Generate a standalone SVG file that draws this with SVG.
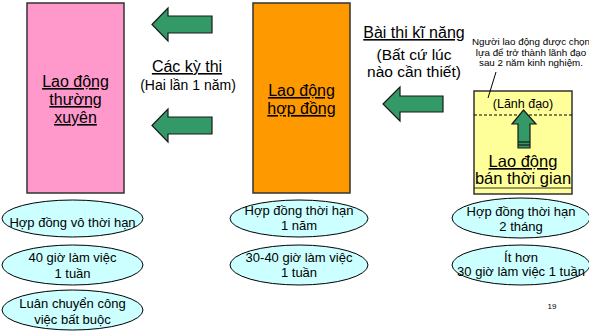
<svg xmlns="http://www.w3.org/2000/svg" width="589" height="331" viewBox="0 0 589 331">
<style>
text{font-family:"Liberation Sans",Arial,sans-serif;fill:#000;text-anchor:middle}
.big{font-size:16px;text-decoration:underline}
.mid{font-size:15.5px}
.ell{font-size:13px}
.small{font-size:9.8px}
.box{stroke:#333;stroke-width:1.5}
.arrow{fill:#339966;stroke:#1a1a1a;stroke-width:1.2;stroke-linejoin:miter}
.oval{fill:#ccffff;stroke:#000;stroke-width:1}
</style>
<rect width="589" height="331" fill="#fff"/>
<g id="node-thuong-xuyen">
<rect class="box" x="27" y="3" width="97" height="190" fill="#ff99cc"/>
<text class="big" x="75.5" y="87">Lao động</text>
<text class="big" x="75.5" y="105">thường </text>
<text class="big" x="75.5" y="123">xuyên</text>
</g>
<g id="node-hop-dong">
<rect class="box" x="253" y="3" width="97" height="190" fill="#ff9900"/>
<text class="big" x="301.5" y="96">Lao động </text>
<text class="big" x="301.5" y="114">hợp đồng</text>
</g>
<g id="node-ban-thoi-gian">
<rect class="box" x="474" y="91" width="98" height="103" fill="#ffff99"/>
<line x1="474" y1="188" x2="572" y2="188" stroke="#333" stroke-width="1.2"/>
<line x1="474" y1="115" x2="572" y2="115" stroke="#000" stroke-width="1" stroke-dasharray="3,2"/>
<text x="523" y="108" style="font-size:12.5px">(Lãnh đạo)</text>
<text class="big" x="523" y="167" style="font-size:16.5px">Lao động </text>
<text x="523" y="184" style="font-size:16.5px">bán thời gian</text>
</g>
<g id="note">
<text class="small" x="531" y="45">Người lao động được chọn</text>
<text class="small" x="531" y="56">lựa để trở thành lãnh đạo</text>
<text class="small" x="531" y="66">sau 2 năm kinh nghiệm.</text>
</g>
<g id="labels">
<text class="big" x="187" y="72">Các kỳ thi</text>
<text x="188" y="90" style="font-size:14px">(Hai lần 1 năm)</text>
<text x="414" y="38" style="font-size:16px;text-decoration:underline">Bài thi kĩ năng</text>
<text class="mid" x="414" y="60">(Bất cứ lúc</text>
<text class="mid" x="414" y="77">nào cần thiết)</text>
</g>
<g id="connectors">
<polygon class="arrow" points="152,24.5 168,8 168,16 212,16 212,33 168,33 168,41"/>
<polygon class="arrow" points="152,125.5 168,109 168,117 212,117 212,134 168,134 168,142"/>
<polygon class="arrow" points="383,104 400,87 400,96 443,96 443,112 400,112 400,121"/>
<polygon class="arrow" points="523.5,110 536,124 530,124 530,148 518,148 518,124 512,124"/>
<line x1="518" y1="142" x2="530" y2="142" stroke="#1a1a1a" stroke-width="1.2"/>
<line x1="518" y1="145" x2="530" y2="145" stroke="#1a1a1a" stroke-width="1.2"/>
<line x1="496" y1="72" x2="488" y2="98" stroke="#000" stroke-width="1"/>
</g>
<g id="node-ellipses-left">
<ellipse class="oval" cx="72.5" cy="218.5" rx="70.5" ry="18.5"/>
<text class="ell" x="72.5" y="227">Hợp đồng vô thời hạn</text>
<ellipse class="oval" cx="72.5" cy="265" rx="70.5" ry="20"/>
<text class="ell" x="72.5" y="262">40 giờ làm việc</text>
<text class="ell" x="72.5" y="278">1 tuần</text>
<ellipse class="oval" cx="72.5" cy="310" rx="70.5" ry="20"/>
<text class="ell" x="72.5" y="308">Luân chuyển công</text>
<text class="ell" x="72.5" y="324">việc bất buộc</text>
</g>
<g id="node-ellipses-mid">
<ellipse class="oval" cx="299" cy="218.5" rx="69" ry="18.5"/>
<text class="ell" x="299" y="215">Hợp đồng thời hạn</text>
<text class="ell" x="299" y="230">1 năm</text>
<ellipse class="oval" cx="299" cy="265" rx="69" ry="20"/>
<text class="ell" x="299" y="262">30-40 giờ làm việc</text>
<text class="ell" x="299" y="277">1 tuần</text>
</g>
<g id="node-ellipses-right">
<ellipse class="oval" cx="521" cy="218" rx="69" ry="20"/>
<text class="ell" x="521" y="216">Hợp đồng thời hạn</text>
<text class="ell" x="521" y="231">2 tháng</text>
<ellipse class="oval" cx="521" cy="265" rx="69" ry="20"/>
<text class="ell" x="521" y="262">Ít hơn</text>
<text class="ell" x="521" y="276">30 giờ làm việc 1 tuần</text>
</g>
<text x="552" y="309" style="font-size:8px">19</text>
</svg>
